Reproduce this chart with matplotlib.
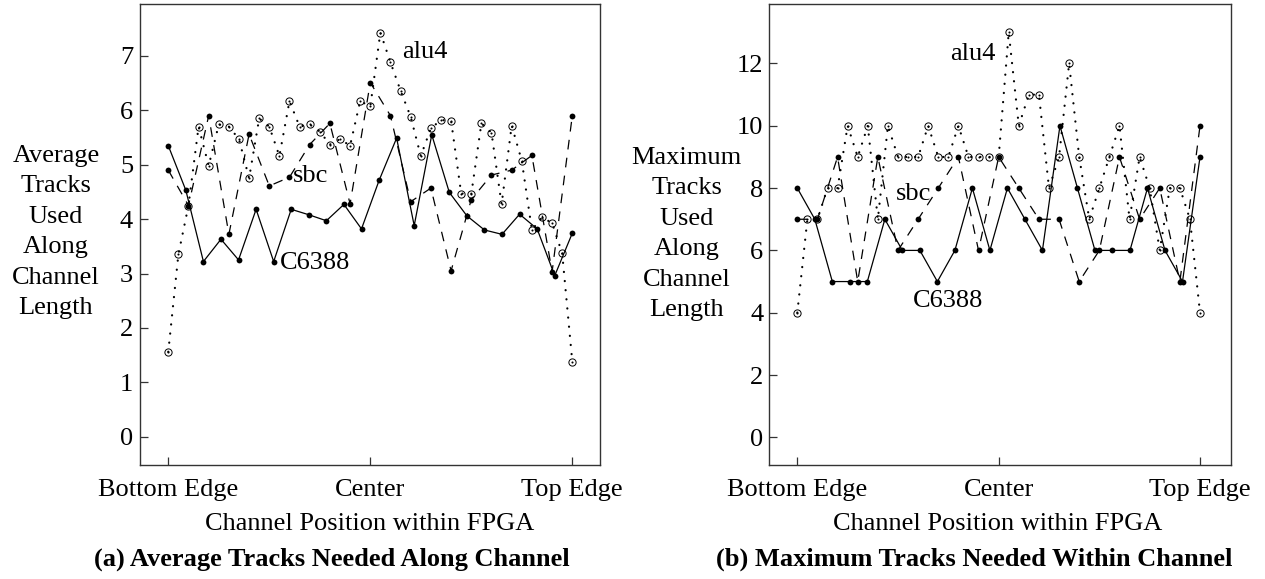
import numpy as np
import matplotlib
matplotlib.use("Agg")
import matplotlib.pyplot as plt

plt.rcParams['font.family'] = ['Liberation Serif', 'DejaVu Serif']
plt.rcParams['font.size'] = 19
plt.rcParams['lines.scale_dashes'] = False

# ---------------- data ----------------
pos_labels = ['Bottom Edge', 'Center', 'Top Edge']

# (a) Average tracks used along channel
c6388_avg = [5.35, 4.53, 3.22, 3.63, 3.25, 4.18, 3.22, 4.18, 4.08, 3.97, 4.27, 3.82,
             4.71, 5.49, 3.88, 5.55, 4.49, 4.06, 3.80, 3.72, 4.09, 3.82, 2.96, 3.74]
sbc_avg = [4.90, 4.25, 5.90, 3.72, 5.56, 4.61, 4.77, 5.37, 5.76, 4.28, 6.51,
           5.90, 4.32, 4.57, 3.05, 4.36, 4.81, 4.90, 5.17, 3.03, 5.90]
alu4_avg = [1.56, 3.35, 4.25, 5.70, 4.98, 5.74, 5.70, 5.47, 4.75, 5.85, 5.70,
            5.16, 6.17, 5.70, 5.74, 5.61, 5.37, 5.47, 5.35, 6.17, 6.07, 7.43,
            6.88, 6.36, 5.88, 5.16, 5.67, 5.82, 5.81, 4.47, 4.46, 5.76, 5.59,
            4.27, 5.72, 5.07, 3.80, 4.03, 3.93, 3.37, 1.38]

# (b) Maximum tracks used within channel
c6388_max = [8, 7, 5, 5, 5, 7, 6, 6, 5, 6, 8, 6, 8, 7, 6, 10, 8, 6, 6, 6, 8, 6, 5, 9]
sbc_max = [7, 7, 9, 5, 9, 6, 7, 8, 9, 6, 9, 8, 7, 7, 5, 6, 9, 7, 8, 5, 10]
alu4_max = [4, 7, 7, 8, 8, 10, 9, 10, 7, 10, 9, 9, 9, 10, 9, 9, 10, 9, 9, 9, 9,
            13, 10, 11, 11, 8, 9, 12, 9, 7, 8, 9, 10, 7, 9, 8, 6, 8, 8, 7, 4]

# ---------------- figure ----------------
W, H = 1265, 579
fig = plt.figure(figsize=(W / 100, H / 100), dpi=100)

def px_axes(x0, x1, ytop, ybot):
    return fig.add_axes([x0 / W, 1 - ybot / H, (x1 - x0) / W, (ybot - ytop) / H])

axA = px_axes(140, 600, 4, 465)
axB = px_axes(769, 1230.7, 4, 465)

spine_col = '#333333'

def draw(ax, c6388, sbc, alu4):
    xc = np.linspace(0, 1, len(c6388))
    xs = np.linspace(0, 1, len(sbc))
    xa = np.linspace(0, 1, len(alu4))
    ax.plot(xc, c6388, color='k', lw=0.9, linestyle='-', marker='o', ms=4.2,
            mfc='k', mec='k', mew=0)
    ax.plot(xs, sbc, color='k', lw=0.9, linestyle=(0, (7, 6)), marker='o', ms=4.2,
            mfc='k', mec='k', mew=0)
    ax.plot(xa, alu4, color='k', lw=1.6, linestyle=(0, (0.1, 6.5)),
            dash_capstyle='round', marker=None)
    ax.plot(xa, alu4, linestyle='none', marker='o', ms=5.2, mfc='none',
            mec='k', mew=0.7)
    ax.plot(xa, alu4, linestyle='none', marker='o', ms=1.5, mfc='k', mec='k', mew=0)
    ax.set_xticks([0, 0.5, 1])
    ax.set_xticklabels(pos_labels)
    for s in ax.spines.values():
        s.set_color(spine_col)
        s.set_linewidth(1.0)
    ax.tick_params(axis='both', direction='in', length=6, width=0.9,
                   color=spine_col, top=False, right=False)

draw(axA, c6388_avg, sbc_avg, alu4_avg)
draw(axB, c6388_max, sbc_max, alu4_max)

axA.set_xlim(-0.070, 1.0686)
axA.set_ylim(-0.520, 7.954)
axA.set_yticks(range(0, 8))
axA.tick_params(axis='y', pad=5)
axA.tick_params(axis='x', pad=10)

axB.set_xlim(-0.0703, 1.0762)
axB.set_ylim(-0.889, 13.91)
axB.set_yticks(range(0, 13, 2))
axB.tick_params(axis='y', pad=4)
axB.tick_params(axis='x', pad=10)

# series labels
axA.text(0.578, 6.96, 'alu4', ha='left', va='baseline')
axA.text(0.309, 4.69, 'sbc', ha='left', va='baseline')
axA.text(0.275, 3.08, 'C6388', ha='left', va='baseline')
axB.text(0.379, 12.11, 'alu4', ha='left', va='baseline')
axB.text(0.245, 7.62, 'sbc', ha='left', va='baseline')
axB.text(0.287, 4.19, 'C6388', ha='left', va='baseline')

# y labels
fig.text(56 / W, 1 - 232 / H, 'Average\nTracks\nUsed\nAlong\nChannel\nLength',
         ha='center', va='center', multialignment='center', linespacing=1.5)
fig.text(686.5 / W, 1 - 234 / H, 'Maximum\nTracks\nUsed\nAlong\nChannel\nLength',
         ha='center', va='center', multialignment='center', linespacing=1.5)

# x labels
fig.text(370 / W, 1 - 524 / H, 'Channel Position within FPGA', ha='center', va='center')
fig.text(998 / W, 1 - 524 / H, 'Channel Position within FPGA', ha='center', va='center')

# captions
fig.text(332 / W, 1 - 559 / H, '(a) Average Tracks Needed Along Channel',
         ha='center', va='center', fontweight='bold')
fig.text(974 / W, 1 - 559 / H, '(b) Maximum Tracks Needed Within Channel',
         ha='center', va='center', fontweight='bold')

fig.savefig('out.png', dpi=100)
